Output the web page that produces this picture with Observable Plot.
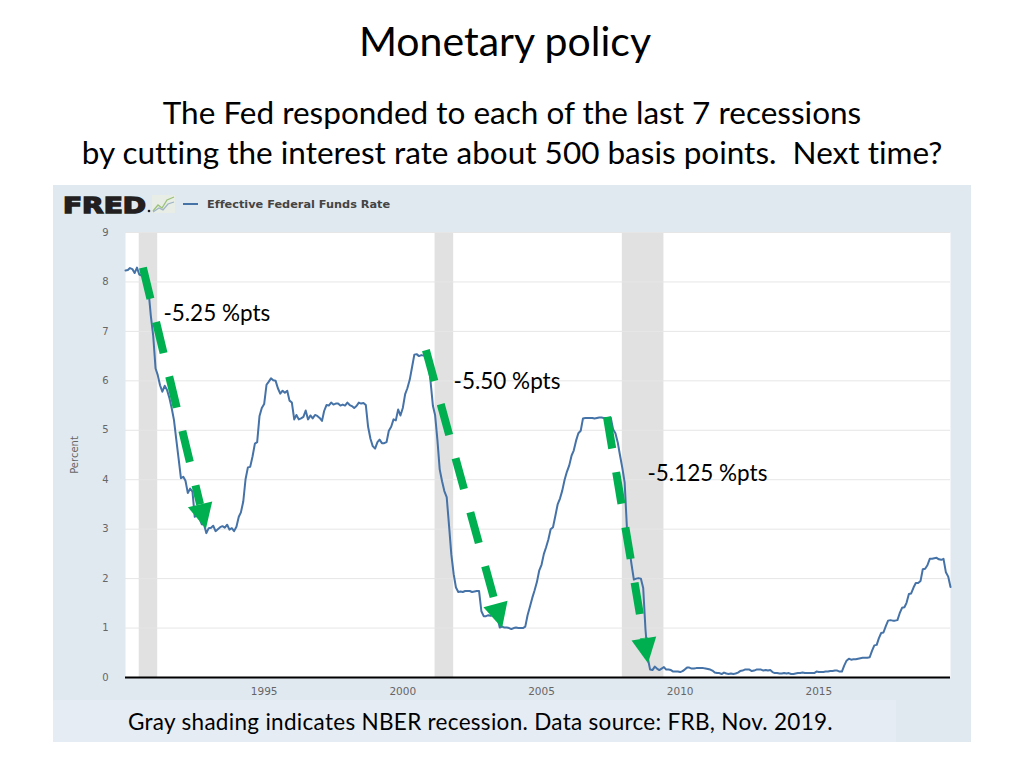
<!DOCTYPE html>
<html>
<head>
<meta charset="utf-8">
<script src="https://cdn.jsdelivr.net/npm/d3@7"></script>
<script src="https://cdn.jsdelivr.net/npm/@observablehq/plot@0.6"></script>
<style>
html, body { margin: 0; padding: 0; background: #ffffff; }
#page { position: relative; width: 1024px; height: 768px; overflow: hidden; font-family: Lato, "Open Sans", sans-serif; color: #000; font-variant-ligatures: none; }
.t { position: absolute; left: 0; width: 1024px; text-align: center; line-height: 1; white-space: nowrap; }
#title { top: 20px; left: -7px; font-size: 41px; }
#sub1 { top: 97px; font-size: 31.5px; }
#sub2 { top: 137px; font-size: 31.5px; }
#panel { position: absolute; left: 53px; top: 185px; width: 918px; height: 557px; background: #e1e9f0; }
#header { position: absolute; left: 0; top: 0; }
#chart { position: absolute; left: 0; top: 37px; }
#capbox { position: absolute; left: 0; top: 515px; width: 843px; height: 42px; background: #e6ecf3; }
#caption { position: absolute; left: 75px; top: 526px; font-size: 22.5px; letter-spacing: 0.3px; line-height: 1; white-space: nowrap; font-family: Lato, sans-serif; }
</style>
</head>
<body>
<div id="page">
  <div class="t" id="title">Monetary policy</div>
  <div class="t" id="sub1">The Fed responded to each of the last 7 recessions</div>
  <div class="t" id="sub2">by cutting the interest rate about 500 basis points.&nbsp; Next time?</div>
  <div id="panel">
    <svg id="header" width="918" height="37">
      <text x="10" y="27.5" font-family="DejaVu Sans" font-weight="bold" font-size="21" textLength="83" lengthAdjust="spacingAndGlyphs" fill="#231f20" stroke="#231f20" stroke-width="1.4">FRED</text>
      <circle cx="96" cy="26" r="1.3" fill="#231f20"></circle>
      <rect x="99" y="10" width="23" height="18" fill="#e8eee6"></rect>
      <polyline points="100,26 105,20 109,23 114,15 121,12" fill="none" stroke="#9cc27a" stroke-width="1.3"></polyline>
      <polyline points="100,27 106,23 110,25 115,19 121,17" fill="none" stroke="#9fb3c8" stroke-width="1.3"></polyline>
      <line x1="130" x2="145" y1="19" y2="19" stroke="#4572a7" stroke-width="2"></line>
      <text x="154" y="23" font-family="DejaVu Sans" font-weight="bold" font-size="11.3" fill="#444444">Effective Federal Funds Rate</text>
    </svg>
    <div id="chart"></div>
    <div id="capbox"></div>
    <div id="caption">Gray shading indicates NBER recession. Data source: FRB, Nov. 2019.</div>
  </div>
</div>
<script>
// Effective federal funds rate, monthly, starting January 1990 (percent)
const startYear = 1990;
const rates = [
  8.23,8.24,8.28,8.26,8.18,8.29,8.15,8.13,8.20,8.11,7.81,7.31,
  6.91,6.25,6.12,5.91,5.78,5.90,5.82,5.66,5.45,5.21,4.81,4.43,
  4.03,4.06,3.98,3.73,3.82,3.76,3.25,3.30,3.22,3.10,3.09,2.92,
  3.02,3.03,3.07,2.96,3.00,3.04,3.06,3.03,3.09,2.99,3.02,2.96,
  3.05,3.25,3.34,3.56,4.01,4.25,4.26,4.47,4.73,4.76,5.29,5.45,
  5.53,5.92,5.98,6.05,6.01,6.00,5.85,5.74,5.80,5.76,5.80,5.60,
  5.56,5.22,5.31,5.22,5.24,5.27,5.40,5.22,5.30,5.24,5.31,5.29,
  5.25,5.19,5.39,5.51,5.50,5.56,5.52,5.54,5.54,5.50,5.52,5.50,
  5.56,5.51,5.49,5.45,5.49,5.56,5.54,5.55,5.51,5.07,4.83,4.68,
  4.63,4.76,4.81,4.74,4.74,4.76,4.99,5.07,5.22,5.20,5.42,5.30,
  5.45,5.73,5.85,6.02,6.27,6.53,6.54,6.50,6.52,6.51,6.51,6.40,
  5.98,5.49,5.31,4.80,4.21,3.97,3.77,3.65,3.07,2.49,2.09,1.82,
  1.73,1.74,1.73,1.75,1.75,1.75,1.73,1.74,1.75,1.75,1.34,1.24,
  1.24,1.26,1.25,1.26,1.26,1.22,1.01,1.03,1.01,1.01,1.00,0.98,
  1.00,1.01,1.00,1.00,1.00,1.03,1.26,1.43,1.61,1.76,1.93,2.16,
  2.28,2.50,2.63,2.79,3.00,3.04,3.26,3.50,3.62,3.78,4.00,4.16,
  4.29,4.49,4.59,4.79,4.94,4.99,5.24,5.25,5.25,5.25,5.25,5.24,
  5.25,5.26,5.26,5.25,5.25,5.25,5.26,5.02,4.94,4.76,4.49,4.24,
  3.94,2.98,2.61,2.28,1.98,2.00,2.01,2.00,1.81,0.97,0.39,0.16,
  0.15,0.22,0.18,0.15,0.18,0.21,0.16,0.16,0.15,0.12,0.12,0.12,
  0.11,0.13,0.16,0.20,0.20,0.18,0.18,0.19,0.19,0.19,0.19,0.18,
  0.17,0.16,0.14,0.10,0.09,0.09,0.07,0.10,0.08,0.07,0.08,0.07,
  0.08,0.10,0.13,0.14,0.16,0.16,0.16,0.13,0.14,0.16,0.16,0.16,
  0.14,0.15,0.14,0.15,0.11,0.09,0.09,0.08,0.08,0.09,0.08,0.09,
  0.07,0.07,0.08,0.09,0.09,0.10,0.09,0.09,0.09,0.09,0.09,0.12,
  0.11,0.11,0.11,0.12,0.12,0.13,0.13,0.14,0.14,0.12,0.12,0.24,
  0.34,0.38,0.36,0.37,0.37,0.38,0.39,0.40,0.40,0.40,0.41,0.54,
  0.65,0.66,0.79,0.90,0.91,1.04,1.15,1.16,1.15,1.15,1.16,1.30,
  1.41,1.42,1.51,1.69,1.70,1.82,1.91,1.91,1.95,2.19,2.20,2.27,
  2.40,2.40,2.41,2.42,2.39,2.38,2.40,2.13,2.04,1.83
];

// NBER recessions
const recessionStart = ["1990-07-01", "2001-03-01", "2007-12-01"];
const recessionEnd   = ["1991-03-01", "2001-11-01", "2009-06-01"];

// Axis ticks
const yTicks = [0, 1, 2, 3, 4, 5, 6, 7, 8, 9];
const xTickYears = [1995, 2000, 2005, 2010, 2015];

// Annotated rate cuts (arrows from peak to trough)
const arrowFromDate = ["1990-08-25", "2000-11-07", "2007-05-19"];
const arrowFromRate = [8.28, 6.61, 5.26];
const arrowToDate   = ["1992-12-02", "2003-08-07", "2008-11-10"];
const arrowToRate   = [3.00, 0.99, 0.28];

// Annotation labels
const labelText = ["-5.25 %pts", "-5.50 %pts", "-5.125 %pts"];
const labelDate = ["1991-05-15", "2001-10-30", "2008-10-27"];
const labelRate = [7.36, 5.99, 4.11];
const labelBoxed = [false, true, true];

// ---- build tables
const series = rates.map((v, i) => ({ date: new Date(Date.UTC(startYear, i, 1)), value: v }));
const recessions = recessionStart.map((s, i) => ({ start: new Date(s), end: new Date(recessionEnd[i]) }));
const xTicks = xTickYears.map(y => new Date(Date.UTC(y, 0, 1)));
const labels = labelText.map((t, i) => ({ text: t, date: new Date(labelDate[i]), value: labelRate[i], boxed: labelBoxed[i] }));
const arrows = arrowFromDate.map((d, i) => ({
  from: new Date(d), fromValue: arrowFromRate[i], to: new Date(arrowToDate[i]), toValue: arrowToRate[i]
}));

const GREEN = "#00b050";
function arrowMark(index, scales) {
  const ns = "http://www.w3.org/2000/svg";
  const g = document.createElementNS(ns, "g");
  g.setAttribute("aria-label", "arrows");
  for (const a of arrows) {
    const x1 = scales.x(a.from), y1 = scales.y(a.fromValue);
    const x2 = scales.x(a.to), y2 = scales.y(a.toValue);
    const dx = x2 - x1, dy = y2 - y1, len = Math.hypot(dx, dy);
    const ux = dx / len, uy = dy / len;
    const head = 25, half = 12.5;
    const bx = x2 - ux * head, by = y2 - uy * head;
    const line = document.createElementNS(ns, "line");
    line.setAttribute("x1", x1); line.setAttribute("y1", y1);
    line.setAttribute("x2", bx); line.setAttribute("y2", by);
    line.setAttribute("stroke", GREEN);
    line.setAttribute("stroke-width", 8);
    line.setAttribute("stroke-dasharray", "32,24");
    g.appendChild(line);
    const tri = document.createElementNS(ns, "polygon");
    tri.setAttribute("points", [
      [x2, y2],
      [bx - uy * half, by + ux * half],
      [bx + uy * half, by - ux * half]
    ].map(p => p.join(",")).join(" "));
    tri.setAttribute("fill", GREEN);
    g.appendChild(tri);
  }
  return g;
}

const chart = Plot.plot({
  width: 918,
  height: 485,
  marginLeft: 72,
  marginRight: 21,
  marginTop: 10,
  marginBottom: 30,
  style: { background: "transparent", fontFamily: "'DejaVu Sans', sans-serif", overflow: "visible" },
  x: { type: "utc", domain: [series[0].date, series[series.length - 1].date] },
  y: { domain: [0, 9] },
  marks: [
    Plot.frame({ fill: "white", stroke: "none" }),
    Plot.rect(recessions, { x1: "start", x2: "end", fill: "#e1e1e1" }),
    Plot.gridY(yTicks.slice(1), { stroke: "#e6e6e6", strokeOpacity: 1, strokeWidth: 1 }),
    Plot.axisY(yTicks, {
      tickSize: 0, tickPadding: 17, fontSize: 10, fill: "#666",
      label: "Percent", labelAnchor: "center", labelOffset: 55, labelArrow: "none"
    }),
    Plot.axisX(xTicks, { tickSize: 0, tickPadding: 10, fontSize: 10.5, fill: "#666", tickFormat: "%Y", label: null }),
    Plot.ruleY([0], { stroke: "black", strokeWidth: 2 }),
    Plot.lineY(series, { x: "date", y: "value", stroke: "#4572a7", strokeWidth: 2 }),
    Plot.text(labels, {
      x: "date", y: "value", text: "text", textAnchor: "start", lineAnchor: "middle",
      fontSize: 22.5, fontFamily: "Lato, sans-serif", fill: "black", ariaLabel: "labels"
    }),
    arrowMark
  ]
});

document.getElementById("chart").appendChild(chart);

// white boxes behind boxed annotation labels
const svgNS = "http://www.w3.org/2000/svg";
const labelNodes = chart.querySelectorAll('g[aria-label="labels"] text');
labelNodes.forEach((node, i) => {
  if (!labels[i] || !labels[i].boxed) return;
  const bb = node.getBBox();
  const cy = bb.y + bb.height / 2;
  const r = document.createElementNS(svgNS, "rect");
  r.setAttribute("x", bb.x - 9);
  r.setAttribute("y", cy - 21);
  r.setAttribute("width", bb.width + 23);
  r.setAttribute("height", 42);
  r.setAttribute("fill", "white");
  node.parentNode.insertBefore(r, node);
});
</script>
</body>
</html>
